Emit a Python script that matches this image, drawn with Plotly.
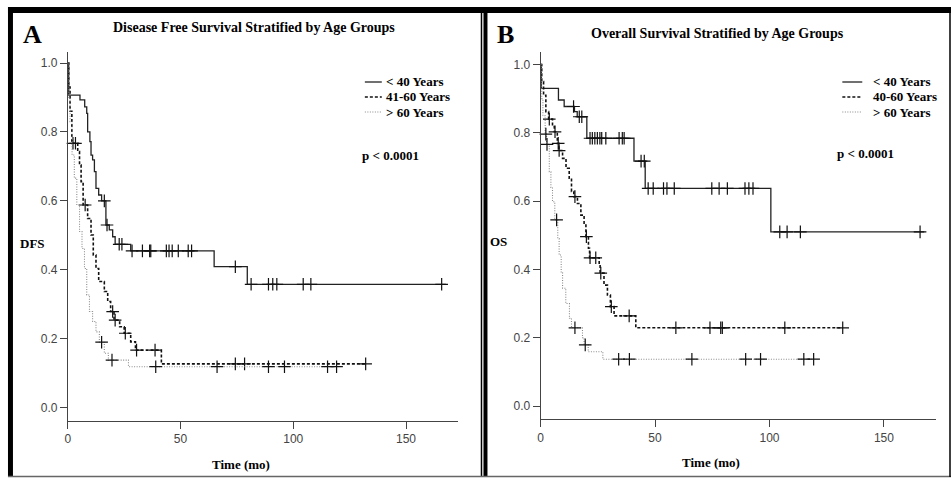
import plotly.graph_objects as go

W, H = 951, 479

# ---------------- DATA ----------------
x_ticks = [0, 50, 100, 150]
x_tick_labels = ["0", "50", "100", "150"]
y_ticks = [0.0, 0.2, 0.4, 0.6, 0.8, 1.0]
y_tick_labels = ["0.0", "0.2", "0.4", "0.6", "0.8", "1.0"]

# Panel A : Disease free survival
dfs_lt40_t = [0, 0.4, 5.4, 7.5, 8.4, 8.8, 9.8, 10.3, 11.0, 11.8, 12.5, 13.7, 15.0, 16.9, 18.4, 19.9, 21.0, 27.9, 64.9, 79.6, 167.7]
dfs_lt40_v = [1.0, 0.907, 0.893, 0.873, 0.854, 0.80, 0.772, 0.733, 0.719, 0.685, 0.636, 0.617, 0.60, 0.53, 0.516, 0.496, 0.474, 0.455, 0.409, 0.358, 0.358]
dfs_lt40_cens_t = [16.2, 17.4, 22.8, 24.0, 28.5, 33.1, 36.3, 36.8, 43.7, 44.9, 46.3, 49.0, 53.4, 54.9, 74.3, 81.3, 89.0, 90.9, 92.7, 104.4, 107.8, 165.8]
dfs_lt40_cens_v = [0.60, 0.53, 0.474, 0.474, 0.455, 0.455, 0.455, 0.455, 0.455, 0.455, 0.455, 0.455, 0.455, 0.455, 0.409, 0.358, 0.358, 0.358, 0.358, 0.358, 0.358, 0.358]

dfs_mid_t = [0, 0.4, 1.0, 1.8, 4.4, 5.2, 5.9, 6.8, 8.8, 10.3, 11.3, 12.5, 13.7, 16.2, 17.7, 19.0, 20.5, 23.0, 25.0, 27.9, 30.0, 41.5, 132.1]
dfs_mid_v = [1.0, 0.93, 0.86, 0.767, 0.743, 0.704, 0.656, 0.588, 0.549, 0.501, 0.443, 0.404, 0.366, 0.337, 0.308, 0.279, 0.254, 0.235, 0.216, 0.191, 0.167, 0.127, 0.127]
dfs_mid_cens_t = [2.3, 3.4, 7.7, 19.9, 21.0, 25.5, 30.5, 38.7, 74.3, 78.4, 132.1]
dfs_mid_cens_v = [0.767, 0.767, 0.588, 0.279, 0.254, 0.216, 0.167, 0.167, 0.127, 0.127, 0.127]

dfs_gt60_t = [0, 0.5, 1.0, 1.9, 2.9, 4.0, 5.2, 6.3, 7.4, 8.4, 9.6, 11.0, 12.5, 14.0, 16.2, 18.0, 26.9, 119.5]
dfs_gt60_v = [1.0, 0.9, 0.83, 0.733, 0.666, 0.588, 0.511, 0.462, 0.404, 0.327, 0.279, 0.25, 0.22, 0.19, 0.158, 0.138, 0.119, 0.119]
dfs_gt60_cens_t = [15.0, 19.6, 39.0, 66.2, 89.0, 96.1, 115.2, 119.2]
dfs_gt60_cens_v = [0.19, 0.138, 0.119, 0.119, 0.119, 0.119, 0.119, 0.119]

# Panel B : Overall survival
os_lt40_t = [0, 0.3, 7.8, 10.3, 14.8, 16.0, 20.2, 40.8, 45.7, 100.6, 167.6]
os_lt40_v = [1.0, 0.93, 0.896, 0.877, 0.862, 0.847, 0.784, 0.717, 0.637, 0.51, 0.51]
os_lt40_cens_t = [14.4, 16.9, 18.0, 21.6, 22.6, 23.7, 24.8, 25.9, 26.7, 28.5, 34.3, 35.7, 36.5, 43.9, 45.3,
                  47.0, 49.2, 53.7, 55.2, 58.4, 74.8, 78.0, 81.6, 89.3, 91.0, 92.8, 104.5, 107.7, 113.5, 165.8]
os_lt40_cens_v = [0.877, 0.847, 0.847] + [0.784] * 10 + [0.717] * 2 + [0.637] * 11 + [0.51] * 4

os_mid_t = [0, 0.5, 1.3, 2.3, 3.5, 5.2, 6.0, 7.3, 8.0, 9.6, 11.1, 12.5, 13.5, 14.5, 16.1, 17.6, 19.0, 19.8, 20.9, 21.4,
            25.6, 26.0, 27.7, 29.2, 30.5, 32.1, 41.6, 132.0]
os_mid_v = [1.0, 0.95, 0.91, 0.862, 0.84, 0.818, 0.803, 0.769, 0.748, 0.725, 0.696, 0.667, 0.628, 0.613, 0.593, 0.559,
            0.53, 0.496, 0.462, 0.434, 0.413, 0.389, 0.354, 0.325, 0.291, 0.264, 0.229, 0.229]
os_mid_cens_t = [3.8, 6.3, 7.7, 8.1, 15.0, 20.0, 21.6, 24.1, 26.3, 30.9, 38.7, 59.1, 74.0, 78.7, 79.4, 106.7, 132.0]
os_mid_cens_v = [0.84, 0.803, 0.769, 0.748, 0.613, 0.496, 0.434, 0.434, 0.389, 0.291, 0.264, 0.229, 0.229, 0.229, 0.229, 0.229, 0.229]

os_gt60_t = [0, 0.5, 1.0, 2.0, 2.6, 3.8, 4.5, 5.2, 6.2, 7.5, 8.1, 9.0, 9.6, 11.0, 12.6, 13.5, 18.3, 19.0, 20.8, 27.2, 119.5]
os_gt60_v = [1.0, 0.9, 0.85, 0.796, 0.766, 0.686, 0.64, 0.598, 0.545, 0.49, 0.442, 0.39, 0.345, 0.30, 0.257, 0.229, 0.2, 0.179, 0.159, 0.137, 0.137]
os_gt60_cens_t = [2.3, 2.8, 7.0, 15.0, 19.5, 34.1, 38.8, 66.1, 89.6, 96.1, 115.0, 119.3]
os_gt60_cens_v = [0.796, 0.766, 0.545, 0.229, 0.179, 0.137, 0.137, 0.137, 0.137, 0.137, 0.137, 0.137]

legend_a = ["< 40 Years", "41-60 Years", "> 60 Years"]
legend_b = ["< 40 Years", "40-60 Years", "> 60 Years"]

# ---------------- STYLE ----------------
SERIF = "Liberation Serif"
SANS = "Liberation Sans"
STYLES = [
    dict(color="#222222", width=1.3, dash="solid"),
    dict(color="#111111", width=1.6, dash="3px,2px"),
    dict(color="#8a8a8a", width=1.1, dash="1px,1.5px"),
]


def px(x):
    return x / W


def py(y):
    return 1 - y / H


fig = go.Figure()


def add_panel(curves, xa, ya):
    for (t, v, ct, cv), st in zip(curves, STYLES):
        fig.add_trace(go.Scatter(x=t, y=v, mode="lines", line_shape="hv",
                                 line=dict(color=st["color"], width=st["width"], dash=st["dash"]),
                                 xaxis=xa, yaxis=ya, showlegend=False, hoverinfo="skip"))
        fig.add_trace(go.Scatter(x=ct, y=cv, mode="markers",
                                 marker=dict(symbol="cross-thin", size=9, color="#111111",
                                             line=dict(color="#111111", width=1.2)),
                                 xaxis=xa, yaxis=ya, showlegend=False, hoverinfo="skip",
                                 cliponaxis=False))


add_panel([(dfs_lt40_t, dfs_lt40_v, dfs_lt40_cens_t, dfs_lt40_cens_v),
           (dfs_mid_t, dfs_mid_v, dfs_mid_cens_t, dfs_mid_cens_v),
           (dfs_gt60_t, dfs_gt60_v, dfs_gt60_cens_t, dfs_gt60_cens_v)], "x", "y")
add_panel([(os_lt40_t, os_lt40_v, os_lt40_cens_t, os_lt40_cens_v),
           (os_mid_t, os_mid_v, os_mid_cens_t, os_mid_cens_v),
           (os_gt60_t, os_gt60_v, os_gt60_cens_t, os_gt60_cens_v)], "x2", "y2")

axis_common = dict(showline=True, linecolor="#444", linewidth=1, ticks="outside", ticklen=7,
                   tickcolor="#444", tickwidth=1, showgrid=False, zeroline=False,
                   tickfont=dict(family=SANS, size=12, color="#444"), fixedrange=True)

# panel A geometry (pixels)
ax_x0, ax_x1, ax_ppu = 65, 456, 2.262
ay_y0, ay_y1, ay_zero, ay_ppu = 420.7, 52, 407.7, 344.7
# panel B geometry
bx_x0, bx_x1, bx_ppu = 539.3, 936, 2.296
by_y0, by_y1, by_zero, by_ppu = 419.3, 51.7, 406, 341.5

fig.update_layout(
    width=W, height=H, margin=dict(l=0, r=0, t=0, b=0),
    paper_bgcolor="white", plot_bgcolor="white",
    xaxis=dict(domain=[px(ax_x0), px(ax_x1)], range=[0, (ax_x1 - ax_x0) / ax_ppu], anchor="y",
               tickvals=x_ticks, ticktext=x_tick_labels, **axis_common),
    yaxis=dict(domain=[py(ay_y0), py(ay_y1)],
               range=[(ay_zero - ay_y0) / ay_ppu, (ay_zero - ay_y1) / ay_ppu], anchor="x",
               tickvals=y_ticks, ticktext=y_tick_labels, **axis_common),
    xaxis2=dict(domain=[px(bx_x0), px(bx_x1)], range=[0, (bx_x1 - bx_x0) / bx_ppu], anchor="y2",
                tickvals=x_ticks, ticktext=x_tick_labels, **axis_common),
    yaxis2=dict(domain=[py(by_y0), py(by_y1)],
                range=[(by_zero - by_y0) / by_ppu, (by_zero - by_y1) / by_ppu], anchor="x2",
                tickvals=y_ticks, ticktext=y_tick_labels, **axis_common),
)

shapes = []
# frames
shapes.append(dict(type="rect", xref="paper", yref="paper", x0=px(5), x1=px(951), y0=py(13), y1=py(7),
                   fillcolor="black", line=dict(width=0)))
shapes.append(dict(type="rect", xref="paper", yref="paper", x0=px(5), x1=px(10), y0=py(477), y1=py(7),
                   fillcolor="black", line=dict(width=0)))
shapes.append(dict(type="line", xref="paper", yref="paper", x0=px(480), x1=px(480), y0=py(477), y1=py(7),
                   line=dict(color="black", width=1.5)))
shapes.append(dict(type="rect", xref="paper", yref="paper", x0=px(482), x1=px(486), y0=py(477), y1=py(7),
                   fillcolor="black", line=dict(width=0)))
shapes.append(dict(type="line", xref="paper", yref="paper", x0=px(5), x1=px(951), y0=py(476.5), y1=py(476.5),
                   line=dict(color="#666", width=1.5)))
shapes.append(dict(type="line", xref="paper", yref="paper", x0=px(950), x1=px(950), y0=py(477), y1=py(7),
                   line=dict(color="black", width=1.5)))

annotations = []


def text(x, y, s, size, xanchor="center", weight="bold", family=SERIF, color="black"):
    annotations.append(dict(xref="paper", yref="paper", x=px(x), y=py(y), text=s, showarrow=False,
                            xanchor=xanchor, yanchor="middle",
                            font=dict(family=family, size=size, color=color, weight=weight)))


def legend(x_line0, x_line1, x_text, labels):
    for i, (lab, st) in enumerate(zip(labels, STYLES)):
        yy = 82 + 15 * i
        shapes.append(dict(type="line", xref="paper", yref="paper", x0=px(x_line0), x1=px(x_line1),
                           y0=py(yy), y1=py(yy),
                           line=dict(color=st["color"], width=st["width"], dash=st["dash"])))
        text(x_text, yy, lab, 13, xanchor="left")


# Panel A texts
text(30, 35, "A", 26)
text(252, 28, "Disease Free Survival Stratified by Age Groups", 14)
legend(363, 380, 382, legend_a)
text(389, 155, "p < 0.0001", 13)
text(30, 243, "DFS", 13)
text(239, 464, "Time (mo)", 13)

# Panel B texts
text(504, 35, "B", 26)
text(717, 33, "Overall Survival Stratified by Age Groups", 14)
legend(842, 862, 871, legend_b)
text(865, 153, "p < 0.0001", 13)
text(497, 242, "OS", 13)
text(710, 462, "Time (mo)", 13)

fig.update_layout(shapes=shapes, annotations=annotations)
fig.write_html("out.html", config={"displayModeBar": False},
               post_script="document.body.style.margin='0';document.body.style.overflow='hidden';")
